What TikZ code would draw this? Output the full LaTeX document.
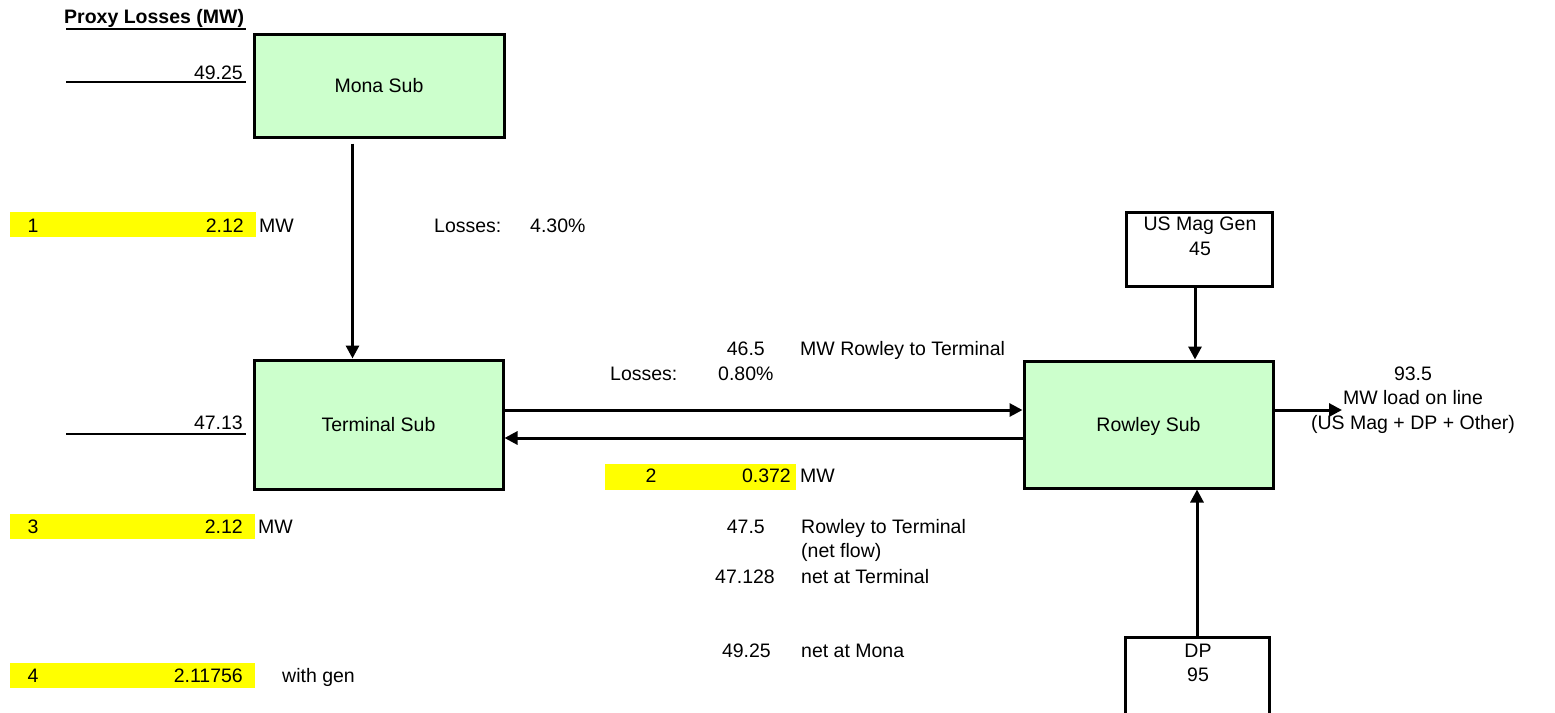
\documentclass[tikz,border=0pt]{standalone}
\usepackage{fontspec}
\setmainfont{Liberation Sans}
\usetikzlibrary{arrows.meta}
\definecolor{subgreen}{HTML}{CCFFCC}
\definecolor{cellyellow}{HTML}{FFFF00}

\tikzset{
  txt/.style={inner sep=0pt, font=\fontsize{19.5}{24.5}\selectfont},
  lbl/.style={txt, anchor=base west},
  num/.style={txt, anchor=base east},
  stack/.style={txt, anchor=base, align=center},% anchored on its last line
  subbox/.style={txt, draw, line width=3pt, fill=subgreen, text height=14pt, text depth=0pt},
  srcbox/.style={txt, draw, line width=3pt, fill=white},
  cell/.style={fill=cellyellow, inner sep=0pt, anchor=north west},
  flow/.style={line width=3pt, -{Triangle[length=13pt,width=13pt]}},
  rule/.style={line width=1.8pt},
}

\begin{document}
\begin{tikzpicture}[x=1pt, y=-1pt]
\path[use as bounding box, clip] (0,0) rectangle (1555,712);

% heading
\node[lbl, font=\fontsize{19.5}{24.5}\selectfont\bfseries] (head) at (64,23.5) {Proxy Losses (MW)};
\draw[line width=2pt] (66,29) -- (246,29);

% substations
\node[subbox, minimum width=250pt, minimum height=103pt] (mona) at (379,85.5) {Mona Sub};
\node[subbox, minimum width=249pt, minimum height=129pt] (terminal) at (378.5,424.5) {Terminal Sub};
\node[subbox, minimum width=249pt, minimum height=127pt] (rowley) at (1148.5,424.5) {Rowley Sub};

% sources
\node[srcbox, minimum width=146pt, minimum height=74pt] (usmag) at (1199,249) {};
\node[stack] (usmagtxt) at (1200,255) {US Mag Gen\\45};
\node[srcbox, minimum width=144pt, minimum height=90pt] (dp) at (1197,682) {};
\node[stack] (dptxt) at (1198,681.5) {DP\\95};

% flows
\draw[flow] ([xshift=100pt,yshift=-5pt]mona.south west) -- ([xshift=100pt]terminal.north west);
\draw[flow] ([yshift=14.5pt,xshift=-2pt]terminal.east) -- ([yshift=14.5pt]rowley.west);
\draw[flow] ([yshift=-13.5pt,xshift=2pt]rowley.west) -- ([yshift=-13.5pt]terminal.east);
\draw[flow] ([xshift=-4pt,yshift=2pt]usmag.south) -- ([xshift=172.5pt]rowley.north west);
\draw[flow] (dp.north) -- ([xshift=174.5pt]rowley.south west);
\coordinate (loadend) at (1342,410);
\draw[flow] ([yshift=14.5pt]rowley.east) -- (loadend);
\node[stack] (load) at (1413,429) {93.5\\MW load on line\\(US Mag + DP + Other)};

% proxy loss values
\node[num] (mona val) at (243,79) {49.25};
\draw[rule] (66,82) -- (246,82);
\node[num] (term val) at (243,429) {47.13};
\draw[rule] (66,434) -- (246,434);

% Mona - Terminal line
\node[cell, minimum width=246pt, minimum height=25pt] (c1) at (10,212) {};
\node[lbl, anchor=base] (c1n) at (33,232) {1};
\node[num] (c1v) at (244,232) {2.12};
\node[lbl] (c1u) at (259,232) {MW};
\node[lbl] (ml) at (434,232) {Losses:};
\node[lbl] (mlv) at (530,232) {4.30\%};

% Terminal - Rowley line
\node[num] (f1) at (765,355) {46.5};
\node[lbl] (f1t) at (800,355) {MW Rowley to Terminal};
\node[lbl] (tl) at (610,380) {Losses:};
\node[lbl] (tlv) at (718,380) {0.80\%};
\node[cell, minimum width=191pt, minimum height=26pt] (c2) at (605,464) {};
\node[lbl, anchor=base] (c2n) at (651,482) {2};
\node[num] (c2v) at (791,482) {0.372};
\node[lbl] (c2u) at (800,482) {MW};

% net flows
\node[num] (n1) at (765,533) {47.5};
\node[lbl] (n1t) at (801,533) {Rowley to Terminal};
\node[lbl] (n1s) at (801,557.5) {(net flow)};
\node[num] (n2) at (775,583) {47.128};
\node[lbl] (n2t) at (801,583) {net at Terminal};
\node[num] (n3) at (771,657) {49.25};
\node[lbl] (n3t) at (801,657) {net at Mona};

% further cases
\node[cell, minimum width=245pt, minimum height=25pt] (c3) at (10,514) {};
\node[lbl, anchor=base] (c3n) at (33,533) {3};
\node[num] (c3v) at (243,533) {2.12};
\node[lbl] (c3u) at (258,533) {MW};
\node[cell, minimum width=245pt, minimum height=25pt] (c4) at (10,663) {};
\node[lbl, anchor=base] (c4n) at (33,682) {4};
\node[num] (c4v) at (243,682) {2.11756};
\node[lbl] (c4u) at (282,682) {with gen};
\end{tikzpicture}
\end{document}
